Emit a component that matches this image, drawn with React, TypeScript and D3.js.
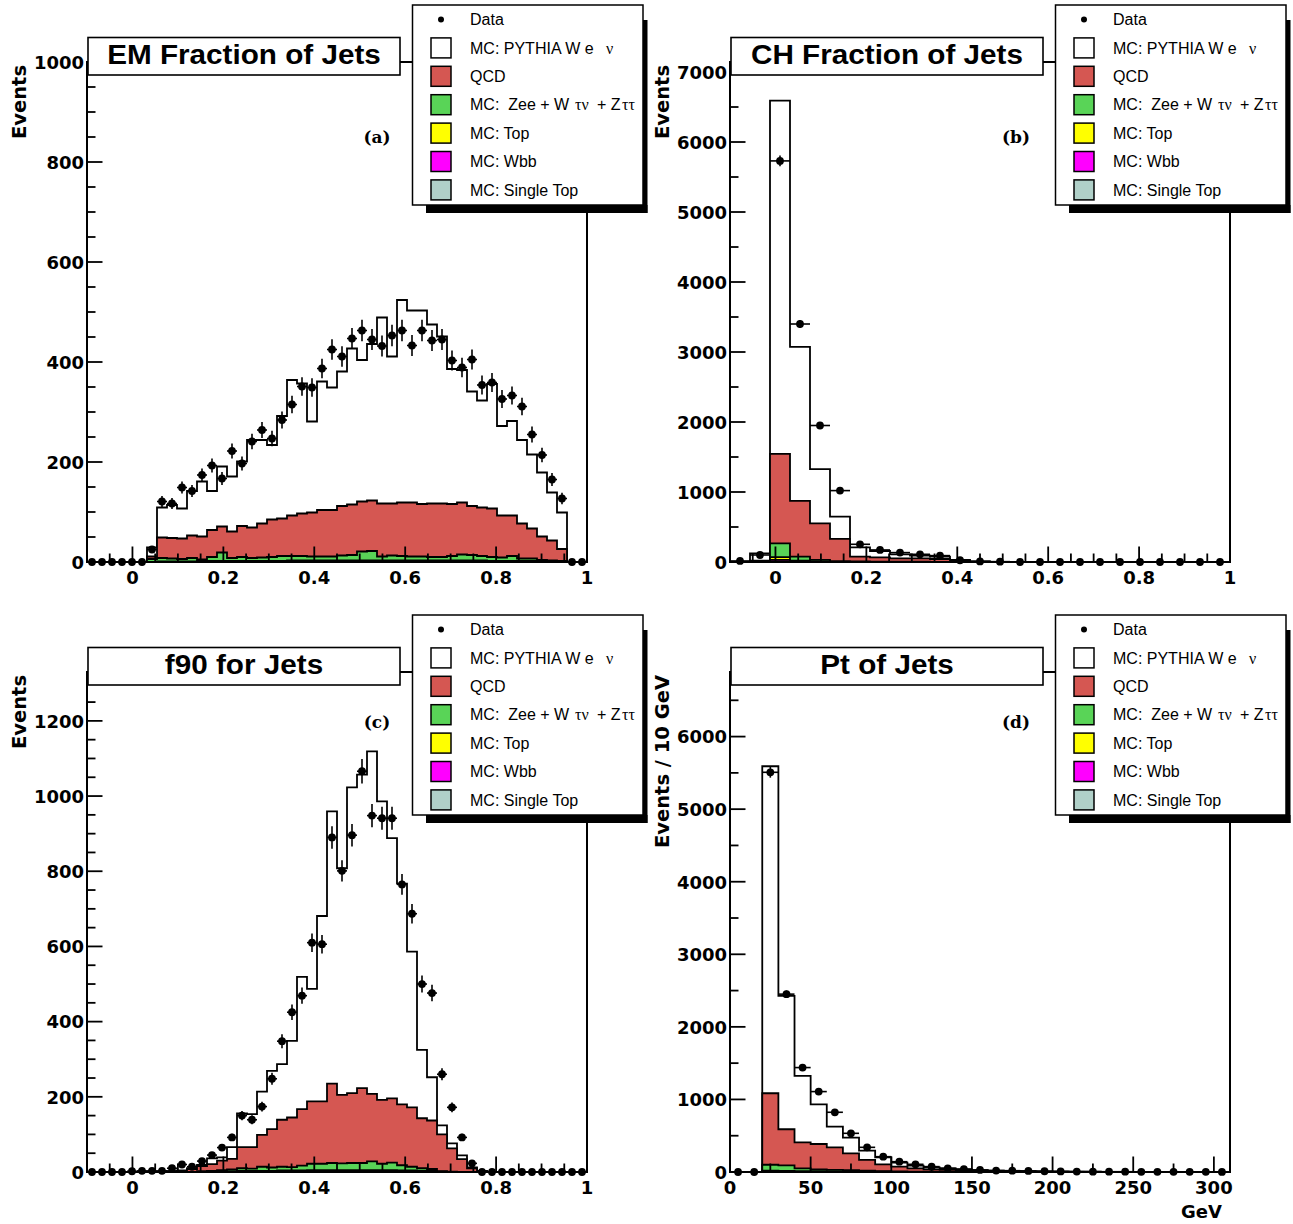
import React from 'react';
import * as d3 from 'd3';

// ---------------- DATA ----------------
// (a) EM fraction of jets : 50 bins over [-0.1, 1.0]
const emData = [0,0,0,0,0,0,25,121,117,149,142,174,193,167,222,197,241,264,247,284,315,351,349,387,425,411,447,463,445,432,453,463,433,463,443,445,403,389,405,354,359,326,333,311,255,214,165,127,0,0];
const emMcTotal = [0,0,0,0,0,0,29,109,114,107,142,161,142,191,171,201,244,244,234,292,364,357,281,361,349,381,427,404,436,489,411,524,503,503,475,451,386,384,341,323,356,272,282,244,215,179,139,99,0,0];
const emQcdTop = [0,0,0,0,0,0,11,49,48,47,53,51,64,71,61,72,69,77,85,87,93,97,99,104,104,112,115,121,123,117,117,119,119,116,117,117,116,119,112,109,107,93,93,77,67,51,43,26,0,0];
const emEwkTop = [0,0,0,0,0,0,6,8,7,6,8,5,10,19,8,10,8,9,10,12,12,12,11,11,11,13,14,21,22,11,13,12,11,11,10,10,12,15,14,12,10,9,12,7,7,4,3,2,0,0];
const emTopTop = [0,0,0,0,0,0,0,1,1,1,1,2,2,2,2,2,2,2,2,2,3,3,3,3,3,3,3,3,3,3,3,3,3,3,3,3,3,3,3,3,2,2,2,2,2,2,2,1,0,0];

// (b) CH fraction of jets : 25 bins over [-0.1, 1.0]
const chData = [15,100,5730,3400,1950,1020,253,172,134,110,91,25,8,5,0,0,0,0,0,0,0,0,0,0,0];
const chMcTotal = [0,124,6590,3073,1327,649,210,157,110,90,76,29,10,3,0,0,0,0,0,0,0,0,0,0,0];
const chQcdTop = [0,20,1546,873,553,329,76,67,53,53,43,20,5,0,0,0,0,0,0,0,0,0,0,0,0];
const chEwkTop = [0,8,267,76,30,12,8,6,5,4,3,2,0,0,0,0,0,0,0,0,0,0,0,0,0];
const chTopTop = [0,3,70,20,8,3,1,0,0,0,0,0,0,0,0,0,0,0,0,0,0,0,0,0,0];
const chWbbTop = [0,1,30,8,3,1,0,0,0,0,0,0,0,0,0,0,0,0,0,0,0,0,0,0,0];
const chStopTop = [0,0,10,3,1,0,0,0,0,0,0,0,0,0,0,0,0,0,0,0,0,0,0,0,0];

// (c) f90 for jets : 50 bins over [-0.1, 1.0]
const f90Data = [0,0,0,0,2,3,3,3,10,20,14,29,45,65,92,150,139,174,248,348,425,469,610,606,890,801,896,1066,948,941,941,765,687,500,476,260,172,92,23,0,0,0,0,0,0,0,0,0,0,0];
const f90McTotal = [0,0,0,0,0,0,0,0,2,4,10,19,36,39,66,156,154,214,269,287,349,519,487,681,959,808,1023,1057,1119,986,888,767,586,325,252,124,76,44,12,3,0,0,0,0,0,0,0,0,0,0];
const f90QcdTop = [0,0,0,0,0,0,0,0,2,3,8,16,21,30,35,66,66,99,114,139,145,167,188,188,235,205,210,223,208,192,196,180,172,143,137,100,63,34,10,2,0,0,0,0,0,0,0,0,0,0];
const f90EwkTop = [0,0,0,0,0,0,0,0,0,0,0,2,3,5,7,10,9,14,12,14,13,17,22,22,24,23,24,24,28,22,25,18,14,10,8,2,1,0,0,0,0,0,0,0,0,0,0,0,0,0];
const f90TopTop = [0,0,0,0,0,0,0,0,0,0,0,0,1,1,2,3,3,3,3,4,4,4,5,5,5,5,5,5,5,5,5,4,4,3,3,1,0,0,0,0,0,0,0,0,0,0,0,0,0,0];

// (d) Pt of jets : 31 bins of 10 GeV over [0, 310]
const ptData = [0,0,5508,2451,1439,1108,823,533,340,211,142,106,74,51,40,28,20,18,15,10,8,6,5,4,4,3,3,2,2,2,1];
const ptMcTotal = [0,0,5591,2428,1324,933,625,473,294,202,129,87,64,51,37,25,18,14,10,8,6,5,4,3,3,2,2,1,1,1,1];
const ptQcdTop = [0,0,1085,589,409,386,340,257,166,106,74,51,37,28,20,15,10,8,6,5,4,3,2,2,1,1,1,1,1,1,0];
const ptEwkTop = [0,0,100,90,50,35,30,25,18,12,8,6,4,3,2,2,1,1,1,0,0,0,0,0,0,0,0,0,0,0,0];
const ptTopTop = [0,0,20,16,12,10,8,6,5,4,3,2,1,1,0,0,0,0,0,0,0,0,0,0,0,0,0,0,0,0,0];

// tick values and labels
const fracXTicks = [0, 0.2, 0.4, 0.6, 0.8, 1];
const fracXLabels = ['0', '0.2', '0.4', '0.6', '0.8', '1'];
const ptXTicks = [0, 50, 100, 150, 200, 250, 300];
const ptXLabels = ['0', '50', '100', '150', '200', '250', '300'];
const emYTicks = [0, 200, 400, 600, 800, 1000];
const chYTicks = [0, 1000, 2000, 3000, 4000, 5000, 6000, 7000];
const f90YTicks = [0, 200, 400, 600, 800, 1000, 1200];
const ptYTicks = [0, 1000, 2000, 3000, 4000, 5000, 6000];

const panelTitles = ['EM Fraction of Jets', 'CH Fraction of Jets', 'f90 for Jets', 'Pt of Jets'];
const panelTags = ['(a)', '(b)', '(c)', '(d)'];
const yTitles = ['Events', 'Events', 'Events', 'Events / 10 GeV'];
const ptXTitle = 'GeV';

const legendLabels = ['Data', 'MC: PYTHIA W e', 'QCD', 'MC:  Zee + W', 'MC: Top', 'MC: Wbb', 'MC: Single Top'];

// ---------------- STYLE ----------------
const LAYER_COLORS = ['#ffffff', '#d55752', '#59d457', '#ffff00', '#ff00ff', '#b0d0c8'];
const SANS = "'Liberation Sans', Arial, Helvetica, sans-serif";
const DJB = "'DejaVu Sans', Verdana, sans-serif";
const SERIF = "'DejaVu Serif', serif";
const GREEK = "'Liberation Serif', 'Times New Roman', serif";

type PanelDef = {
  ox: number; oy: number; idx: number;
  xDomain: [number, number]; yMax: number; nb: number;
  data: number[]; layers: (number[] | null)[];
  xTicks: number[]; xLabels: string[]; xMinor: number;
  yTicks: number[]; yMinor: number;
  tagX: number; tagY: number; xTitle?: string;
};

const panels: PanelDef[] = [
  { idx: 0, ox: 0, oy: 0, xDomain: [-0.1, 1.0], yMax: 1000, nb: 50, data: emData,
    layers: [emMcTotal, emQcdTop, emEwkTop, emTopTop, null, null],
    xTicks: fracXTicks, xLabels: fracXLabels, xMinor: 0.05, yTicks: emYTicks, yMinor: 50, tagX: 377, tagY: 143 },
  { idx: 1, ox: 643, oy: 0, xDomain: [-0.1, 1.0], yMax: 7143, nb: 25, data: chData,
    layers: [chMcTotal, chQcdTop, chEwkTop, chTopTop, chWbbTop, chStopTop],
    xTicks: fracXTicks, xLabels: fracXLabels, xMinor: 0.05, yTicks: chYTicks, yMinor: 500, tagX: 1016, tagY: 143 },
  { idx: 2, ox: 0, oy: 610, xDomain: [-0.1, 1.0], yMax: 1330, nb: 50, data: f90Data,
    layers: [f90McTotal, f90QcdTop, f90EwkTop, f90TopTop, null, null],
    xTicks: fracXTicks, xLabels: fracXLabels, xMinor: 0.05, yTicks: f90YTicks, yMinor: 50, tagX: 377, tagY: 728 },
  { idx: 3, ox: 643, oy: 610, xDomain: [0, 310], yMax: 6890, nb: 31, data: ptData,
    layers: [ptMcTotal, ptQcdTop, ptEwkTop, ptTopTop, null, null],
    xTicks: ptXTicks, xLabels: ptXLabels, xMinor: 25, yTicks: ptYTicks, yMinor: 500, tagX: 1016, tagY: 728, xTitle: ptXTitle },
];

function minorValues(d0: number, d1: number, step: number) {
  const k0 = Math.ceil(d0 / step - 1e-9), k1 = Math.floor(d1 / step + 1e-9);
  return d3.range(k0, k1 + 1).map(k => k * step);
}

function Panel({ p }: { p: PanelDef }) {
  const L = 87 + p.ox, R = 587 + p.ox, T = 62 + p.oy, B = 562 + p.oy;
  const x = d3.scaleLinear().domain(p.xDomain).range([L, R]);
  const y = d3.scaleLinear().domain([0, p.yMax]).range([B, T]);
  const bw = (p.xDomain[1] - p.xDomain[0]) / p.nb;
  const edges = d3.range(p.nb + 1).map(i => p.xDomain[0] + i * bw);

  const stepPath = (vals: number[]) => {
    const pth = d3.path();
    pth.moveTo(x(edges[0]), y(0));
    vals.forEach((v, i) => {
      pth.lineTo(x(edges[i]), y(v));
      pth.lineTo(x(edges[i + 1]), y(v));
    });
    pth.lineTo(x(edges[p.nb]), y(0));
    pth.closePath();
    return pth.toString();
  };

  const xMinors = minorValues(p.xDomain[0], p.xDomain[1], p.xMinor);
  const yMinors = minorValues(0, p.yMax, p.yMinor);
  const isMajor = (v: number, arr: number[]) => arr.some(a => Math.abs(a - v) < 1e-6);

  return (
    <g>
      {p.layers.map((ly, li) => ly ? (
        <path key={li} d={stepPath(ly)} fill={LAYER_COLORS[li]} stroke="#000" strokeWidth={1.8} strokeLinejoin="miter" />
      ) : null)}
      <rect x={L} y={T} width={R - L} height={B - T} fill="none" stroke="#000" strokeWidth={2} />
      {xMinors.map((v, i) => (
        <line key={'xm' + i} x1={x(v)} x2={x(v)} y1={B} y2={B - (isMajor(v, p.xTicks) ? 15.5 : 8.5)} stroke="#000" strokeWidth={1.8} />
      ))}
      {yMinors.map((v, i) => (
        <line key={'ym' + i} x1={L} x2={L + (isMajor(v, p.yTicks) ? 15.5 : 8.5)} y1={y(v)} y2={y(v)} stroke="#000" strokeWidth={1.8} />
      ))}
      {p.data.map((v, i) => {
        const cx = x(edges[i] + bw / 2), cy = y(v);
        const e = Math.sqrt(v);
        return (
          <g key={'d' + i}>
            {v > 0 && <line x1={x(edges[i])} x2={x(edges[i + 1])} y1={cy} y2={cy} stroke="#000" strokeWidth={1.6} />}
            {v > 0 && <line x1={cx} x2={cx} y1={y(v - e)} y2={y(v + e)} stroke="#000" strokeWidth={1.6} />}
            <circle cx={cx} cy={cy} r={3.9} fill="#000" />
          </g>
        );
      })}
      {p.xTicks.map((v, i) => (
        <text key={'xl' + i} x={x(v)} y={B + 21.5} textAnchor="middle" fontFamily={DJB} fontWeight="bold" fontSize={18}>{p.xLabels[i]}</text>
      ))}
      {p.yTicks.map((v, i) => (
        <text key={'yl' + i} x={L - 3} y={y(v) + 6.8} textAnchor="end" fontFamily={DJB} fontWeight="bold" fontSize={18}>{String(v)}</text>
      ))}
      <text transform={`translate(${L - 61},${T + 3}) rotate(-90)`} textAnchor="end" fontFamily={DJB} fontWeight="bold" fontSize={19.5}>{yTitles[p.idx]}</text>
      {p.xTitle && (
        <text x={R - 8} y={B + 46} textAnchor="end" fontFamily={DJB} fontWeight="bold" fontSize={18}>{p.xTitle}</text>
      )}
      <text x={p.tagX} y={p.tagY} textAnchor="middle" fontFamily={SERIF} fontWeight="bold" fontSize={17}>{panelTags[p.idx]}</text>
    </g>
  );
}

function TitleBox({ p }: { p: PanelDef }) {
  const bx = 88 + p.ox, by = 37.5 + p.oy, bwid = 312, bh = 37.5;
  const cx = bx + bwid / 2;
  return (
    <g>
      <rect x={bx} y={by} width={bwid} height={bh} fill="#fff" stroke="#000" strokeWidth={1.6} />
      <text x={cx} y={by + 26.5} textAnchor="middle" fontFamily={SANS} fontWeight="bold" fontSize={28}
        transform={`translate(${cx},0) scale(1.06,1) translate(${-cx},0)`}>{panelTitles[p.idx]}</text>
    </g>
  );
}

function Legend({ p }: { p: PanelDef }) {
  const lx = 412.5 + p.ox, ly = 5 + p.oy, lw = 230.5, lh = 200;
  const tx = lx + 57.5;
  return (
    <g>
      <rect x={lx + 13.5} y={ly + lh} width={lw - 9} height={8} fill="#000" />
      <rect x={lx + lw} y={ly + 15} width={4.5} height={lh - 7} fill="#000" />
      <rect x={lx} y={ly} width={lw} height={lh} fill="#fff" stroke="#000" strokeWidth={1.5} />
      {legendLabels.map((lab, k) => {
        const cy = ly + 14.5 + 28.4 * k;
        return (
          <g key={k}>
            {k === 0 ? (
              <circle cx={lx + 28.5} cy={cy} r={3} fill="#000" />
            ) : (
              <rect x={lx + 18.5} y={cy - 10} width={20} height={20} fill={LAYER_COLORS[k - 1]} stroke="#000" strokeWidth={1.5} />
            )}
            <text x={tx} y={cy + 5.6} fontFamily={SANS} fontSize={16} style={{ whiteSpace: 'pre' }}>
              {lab}
              {k === 1 && <tspan x={tx + 136} fontFamily={GREEK}>ν</tspan>}
              {k === 3 && <tspan x={tx + 105} fontFamily={GREEK}>τν</tspan>}
              {k === 3 && <tspan x={tx + 127}>+ Z</tspan>}
              {k === 3 && <tspan x={tx + 152} fontFamily={GREEK}>ττ</tspan>}
            </text>
          </g>
        );
      })}
    </g>
  );
}

export default function App() {
  return (
    <svg width={1293} height={1224} viewBox="0 0 1293 1224" style={{ position: 'absolute', left: 0, top: 0, background: '#fff' }}>
      <rect x={0} y={0} width={1293} height={1224} fill="#fff" />
      {panels.map(p => <Panel key={p.idx} p={p} />)}
      {panels.map(p => <TitleBox key={'t' + p.idx} p={p} />)}
      {panels.map(p => <Legend key={'l' + p.idx} p={p} />)}
    </svg>
  );
}
